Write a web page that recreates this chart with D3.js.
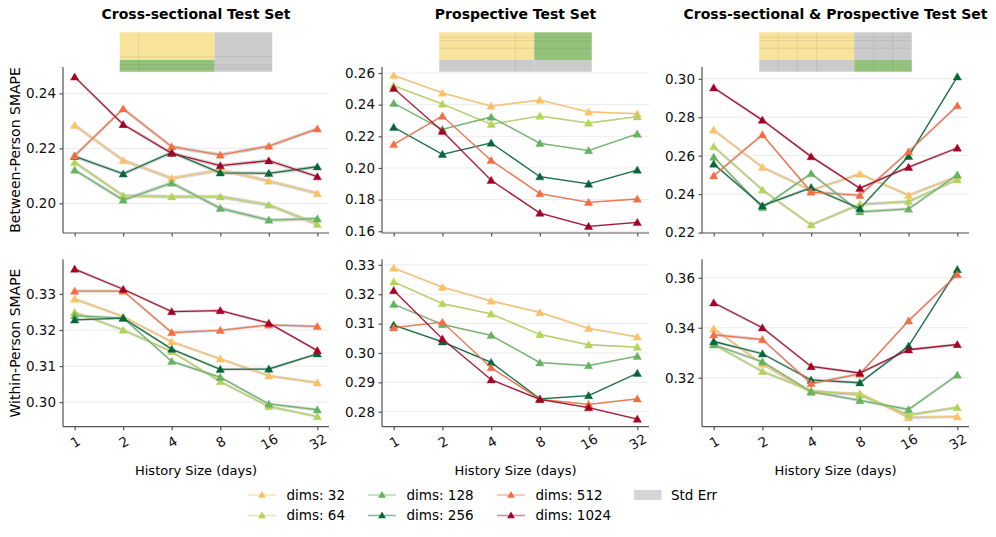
<!DOCTYPE html>
<html>
<head>
<meta charset="utf-8">
<title>SMAPE vs History Size</title>
<style>
  html, body { margin: 0; padding: 0; background: #fff; }
  svg { display: block; font-family: "DejaVu Sans", sans-serif; }
  .grid line { stroke: #ebebeb; stroke-width: 1; }
  .axis path, .axis line { stroke: #555; stroke-width: 1.2; }
  .axis text { fill: #111; font-size: 13.5px; font-family: "DejaVu Sans", sans-serif; }
</style>
</head>
<body>
<svg id="chart" width="996" height="537"></svg>
<script src="https://d3js.org/d3.v7.min.js"></script>
<script>
// ---- data ----
const historySizes = ["1", "2", "4", "8", "16", "32"];
const dimsLabels = ["dims: 32", "dims: 64", "dims: 128", "dims: 256", "dims: 512", "dims: 1024"];
const dimsColors = ["#fdc163", "#b3d457", "#63b35f", "#05663a", "#f46d43", "#a50026"];

const columnTitles = ["Cross-sectional Test Set", "Prospective Test Set", "Cross-sectional & Prospective Test Set"];
const rowLabels = ["Between-Person SMAPE", "Within-Person SMAPE"];

// one row per dims value (32 .. 1024), one column per history size
const betweenCross = [
  [0.2284, 0.2156, 0.2091, 0.2121, 0.2081, 0.2036],
  [0.2149, 0.2028, 0.2024, 0.2024, 0.1994, 0.1924],
  [0.2121, 0.2012, 0.2074, 0.1982, 0.1939, 0.1944],
  [0.2171, 0.2107, 0.2185, 0.2111, 0.2109, 0.2133],
  [0.2173, 0.2344, 0.2206, 0.2176, 0.2208, 0.2271],
  [0.2460, 0.2287, 0.2182, 0.2137, 0.2155, 0.2097]
];
const betweenProsp = [
  [0.2585, 0.2474, 0.2391, 0.2429, 0.2354, 0.2343],
  [0.2520, 0.2404, 0.2276, 0.2328, 0.2284, 0.2324],
  [0.2409, 0.2244, 0.2322, 0.2156, 0.2110, 0.2215],
  [0.2257, 0.2086, 0.2158, 0.1945, 0.1899, 0.1987],
  [0.2149, 0.2328, 0.2048, 0.1838, 0.1783, 0.1804],
  [0.2503, 0.2232, 0.1922, 0.1715, 0.1631, 0.1656]
];
const betweenBoth = [
  [0.2733, 0.2540, 0.2420, 0.2505, 0.2394, 0.2491],
  [0.2647, 0.2422, 0.2240, 0.2347, 0.2361, 0.2475],
  [0.2593, 0.2330, 0.2507, 0.2308, 0.2323, 0.2501],
  [0.2557, 0.2340, 0.2434, 0.2325, 0.2597, 0.3010],
  [0.2496, 0.2709, 0.2411, 0.2394, 0.2621, 0.2860],
  [0.2953, 0.2785, 0.2595, 0.2431, 0.2540, 0.2640]
];
const withinCross = [
  [0.3286, 0.3237, 0.3167, 0.3120, 0.3073, 0.3054],
  [0.3249, 0.3200, 0.3140, 0.3057, 0.2988, 0.2960],
  [0.3240, 0.3233, 0.3113, 0.3069, 0.2995, 0.2979],
  [0.3228, 0.3233, 0.3147, 0.3091, 0.3092, 0.3134],
  [0.3308, 0.3308, 0.3193, 0.3199, 0.3214, 0.3210],
  [0.3369, 0.3313, 0.3251, 0.3254, 0.3219, 0.3143]
];
const withinProsp = [
  [0.3289, 0.3224, 0.3177, 0.3138, 0.3084, 0.3055],
  [0.3242, 0.3168, 0.3133, 0.3063, 0.3028, 0.3020],
  [0.3166, 0.3097, 0.3060, 0.2967, 0.2957, 0.2989],
  [0.3095, 0.3038, 0.2968, 0.2844, 0.2855, 0.2931],
  [0.3086, 0.3105, 0.2950, 0.2842, 0.2825, 0.2844],
  [0.3213, 0.3048, 0.2909, 0.2842, 0.2814, 0.2775]
];
const withinBoth = [
  [0.3396, 0.3255, 0.3140, 0.3137, 0.3041, 0.3044],
  [0.3333, 0.3225, 0.3148, 0.3131, 0.3051, 0.3081],
  [0.3332, 0.3264, 0.3144, 0.3109, 0.3073, 0.3211],
  [0.3345, 0.3296, 0.3191, 0.3180, 0.3327, 0.3633],
  [0.3372, 0.3353, 0.3177, 0.3215, 0.3428, 0.3613],
  [0.3500, 0.3400, 0.3245, 0.3219, 0.3312, 0.3333]
];

// std err per panel (approximate, same for all lines of a panel)
const stdErr = [0.0007, 0.0005, 0.0008, 0.0004, 0.0003, 0.0006];

const yTicks = [
  [0.20, 0.22, 0.24],
  [0.16, 0.18, 0.20, 0.22, 0.24, 0.26],
  [0.22, 0.24, 0.26, 0.28, 0.30],
  [0.30, 0.31, 0.32, 0.33],
  [0.28, 0.29, 0.30, 0.31, 0.32, 0.33],
  [0.32, 0.34, 0.36]
];
const yDomains = [
  [0.1892, 0.2496], [0.1589, 0.2638], [0.2198, 0.3061],
  [0.2932, 0.3396], [0.2749, 0.3319], [0.3004, 0.3674]
];

const panelData = [betweenCross, betweenProsp, betweenBoth, withinCross, withinProsp, withinBoth];

// ---- layout ----
const svg = d3.select("#chart");
const colX = [[63, 329], [382, 649], [702, 969]];
const rowY = [[67, 233], [259.3, 426.7]];

// little split-diagram above each column: [top-left, top-right, bottom-left, bottom-right]
const iconFills = [
  ["#f8e39b", "#cbcbcb", "#93c27a", "#cbcbcb"],
  ["#f8e39b", "#93c27a", "#cbcbcb", "#cbcbcb"],
  ["#f8e39b", "#cbcbcb", "#cbcbcb", "#93c27a"]
];

columnTitles.forEach((t, c) => {
  const cx = (colX[c][0] + colX[c][1]) / 2;
  svg.append("text")
    .attr("x", cx).attr("y", 18.5)
    .attr("text-anchor", "middle")
    .attr("font-size", 14).attr("font-weight", "bold")
    .text(t);

  const iw = 152.5, x0 = cx - iw / 2, split = x0 + iw * 0.623;
  const yTop = 32.3, yMid = 60, yBot = 71.7;
  const g = svg.append("g");
  const f = iconFills[c];
  g.append("rect").attr("x", x0).attr("y", yTop).attr("width", split - x0).attr("height", yMid - yTop).attr("fill", f[0]);
  g.append("rect").attr("x", split).attr("y", yTop).attr("width", x0 + iw - split).attr("height", yMid - yTop).attr("fill", f[1]);
  g.append("rect").attr("x", x0).attr("y", yMid).attr("width", split - x0).attr("height", yBot - yMid).attr("fill", f[2]);
  g.append("rect").attr("x", split).attr("y", yMid).attr("width", x0 + iw - split).attr("height", yBot - yMid).attr("fill", f[3]);
  // faint grid lines inside the diagram
  const faint = "rgba(0,0,0,0.07)";
  let vx = [], hy = [];
  if (c === 0) { vx = [0.125]; hy = [56.7, 65, 68.3]; }
  if (c === 1) { vx = [0.5]; hy = [37.3, 40.7, 48.3]; }
  if (c === 2) { vx = [0.125, 0.25, 0.375, 0.75, 0.875]; hy = [37.3, 40.7, 48.3]; }
  vx.forEach(p => g.append("line").attr("x1", x0 + iw * p).attr("x2", x0 + iw * p)
    .attr("y1", yTop).attr("y2", yBot).attr("stroke", faint));
  hy.forEach(y => g.append("line").attr("x1", x0).attr("x2", x0 + iw)
    .attr("y1", y).attr("y2", y).attr("stroke", faint));
});

rowLabels.forEach((t, r) => {
  const cy = (rowY[r][0] + rowY[r][1]) / 2;
  svg.append("text")
    .attr("transform", `translate(20,${cy}) rotate(-90)`)
    .attr("text-anchor", "middle")
    .attr("font-size", 14)
    .text(t);
});

panelData.forEach((series, i) => {
  const r = Math.floor(i / 3), c = i % 3;
  const [xl, xr] = colX[c], [yt, yb] = rowY[r];

  const x = d3.scalePoint().domain(historySizes).range([xl, xr]).padding(0.24);
  const y = d3.scaleLinear().domain(yDomains[i]).range([yb, yt]);

  const g = svg.append("g");

  // gridlines
  g.append("g").attr("class", "grid")
    .selectAll("line").data(yTicks[i]).join("line")
    .attr("x1", xl).attr("x2", xr)
    .attr("y1", d => y(d)).attr("y2", d => y(d));

  const se = stdErr[i];
  const area = d3.area()
    .x((d, j) => x(historySizes[j]))
    .y0(d => y(d - se)).y1(d => y(d + se));
  const line = d3.line().x((d, j) => x(historySizes[j])).y(d => y(d));

  series.forEach((vals, k) => {
    g.append("path").attr("d", area(vals))
      .attr("fill", "#c8c8c8").attr("opacity", 0.75);
  });
  series.forEach((vals, k) => {
    g.append("path").attr("d", line(vals))
      .attr("fill", "none").attr("stroke", dimsColors[k])
      .attr("stroke-width", 1.3).attr("opacity", 0.9);
    g.selectAll(null).data(vals).join("path")
      .attr("transform", (d, j) => `translate(${x(historySizes[j])},${y(d) + 0.8})`)
      .attr("d", d3.symbol(d3.symbolTriangle, 30))
      .attr("fill", dimsColors[k])
      .attr("stroke", dimsColors[k]).attr("stroke-opacity", 0.5).attr("stroke-width", 0.8);
  });

  // axes
  const ya = g.append("g").attr("class", "axis")
    .attr("transform", `translate(${xl},0)`)
    .call(d3.axisLeft(y).tickValues(yTicks[i]).tickFormat(d3.format(".2f")).tickSizeOuter(0).tickSize(3.5).tickPadding(3.5));
  ya.select(".domain").attr("d", `M0,${yt}V${yb}`);

  const xa = g.append("g").attr("class", "axis")
    .attr("transform", `translate(0,${yb})`)
    .call(d3.axisBottom(x).tickSizeOuter(0).tickSize(3.5).tickPadding(3.5));
  xa.select(".domain").attr("d", `M${xl},0H${xr}`);
  if (r === 0) {
    xa.selectAll("text").remove();
  } else {
    xa.selectAll("text")
      .attr("y", 0).attr("dy", null)
      .attr("dominant-baseline", "central")
      .attr("transform", "translate(0,15) rotate(-30)")
      .attr("font-size", 13);
    svg.append("text")
      .attr("x", (xl + xr) / 2).attr("y", 474.5)
      .attr("text-anchor", "middle")
      .attr("font-size", 13)
      .text("History Size (days)");
  }
});

// ---- legend ----
const legCols = [248, 368, 497];
const legRows = [495, 515.5];
dimsLabels.forEach((lab, k) => {
  const cx = legCols[Math.floor(k / 2)], cy = legRows[k % 2];
  const lg = svg.append("g");
  lg.append("line").attr("x1", cx).attr("x2", cx + 28).attr("y1", cy).attr("y2", cy)
    .attr("stroke", dimsColors[k]).attr("stroke-width", 1.6).attr("opacity", 0.45);
  lg.append("path").attr("transform", `translate(${cx + 14},${cy + 0.5})`)
    .attr("d", d3.symbol(d3.symbolTriangle, 26)).attr("fill", dimsColors[k]);
  lg.append("text").attr("x", cx + 38.5).attr("y", cy).attr("dy", "0.35em")
    .attr("font-size", 13.5).text(lab);
});
svg.append("rect").attr("x", 634).attr("y", 490).attr("width", 27.5).attr("height", 10)
  .attr("fill", "#d6d6d6");
svg.append("text").attr("x", 671).attr("y", 495).attr("dy", "0.35em")
  .attr("font-size", 13.5).text("Std Err");
</script>
</body>
</html>
